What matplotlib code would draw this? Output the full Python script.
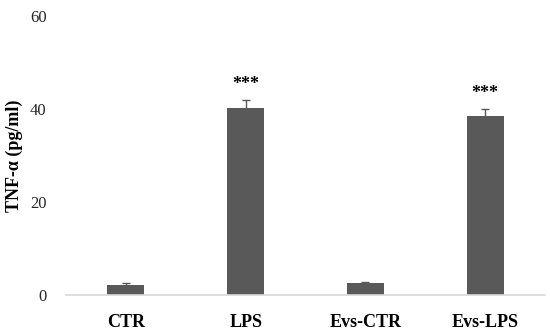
import numpy as np
import matplotlib.pyplot as plt

categories = ["CTR", "LPS", "Evs-CTR", "Evs-LPS"]
values = [2.2, 40.2, 2.5, 38.4]
errors = [0.3, 1.8, 0.2, 1.7]
stars = ["", "***", "", "***"]

plt.rcParams['font.family'] = ['Liberation Serif', 'DejaVu Serif']

fig = plt.figure(figsize=(5.5, 3.33), dpi=100)
ax = fig.add_axes([0.12, 0.114, 0.871, 0.838])

x = np.arange(len(categories))
ax.bar(x, values, width=0.31, color="#595959", yerr=errors,
       error_kw=dict(ecolor="#595959", elinewidth=1, capsize=3, capthick=1), zorder=2)

for xi, v, e, s in zip(x, values, errors, stars):
    if s:
        ax.text(xi, v + e + 1.5, s, ha="center", va="bottom", fontsize=13, fontweight="bold")

ax.set_xlim(-0.5, len(categories) - 0.5)
ax.set_ylim(0, 60)
ax.set_yticks([0, 20, 40, 60])
ax.set_xticks(x)
ax.set_xticklabels(categories, fontsize=13, fontweight="bold")
ax.tick_params(axis="y", labelsize=12, length=0, pad=14, colors="#262626")
ax.tick_params(axis="x", length=0, pad=14)
ax.set_ylabel("TNF-α (pg/ml)", fontsize=13, fontweight="bold")
ax.yaxis.set_label_coords(-0.090, 0.5)

for side in ["top", "right", "left"]:
    ax.spines[side].set_visible(False)
ax.spines["bottom"].set_color("#d9d9d9")
ax.spines["bottom"].set_linewidth(1.2)

fig.savefig("out.png", dpi=100)
